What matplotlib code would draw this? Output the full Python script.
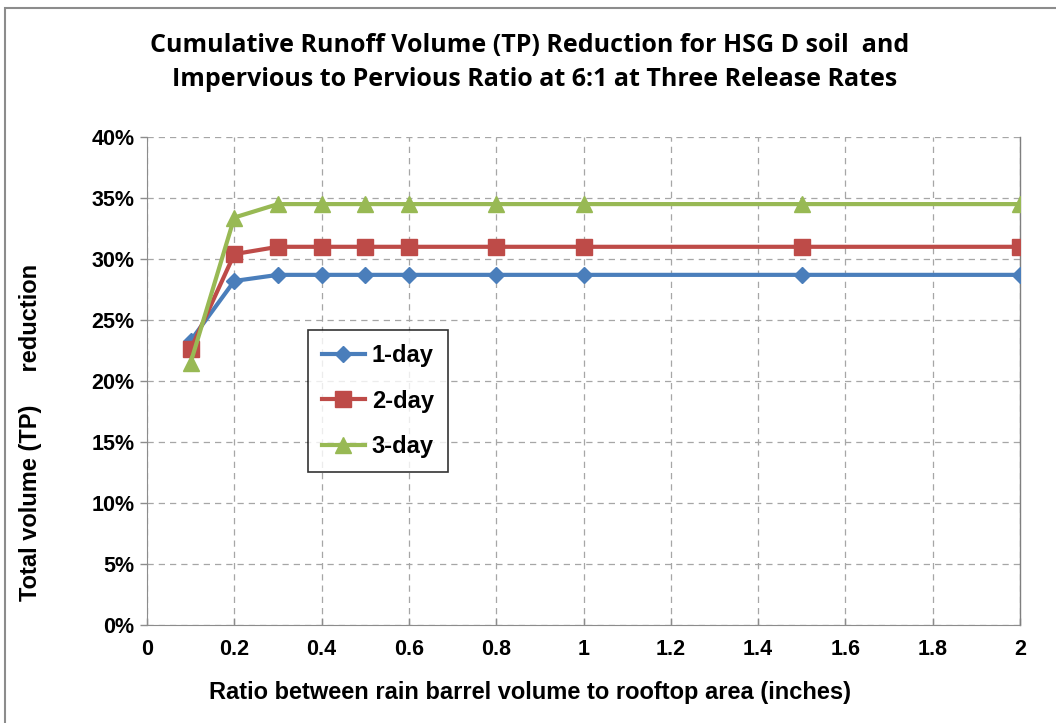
import matplotlib
matplotlib.use("Agg")
import matplotlib.pyplot as plt
from matplotlib.patches import Rectangle
from matplotlib.ticker import FuncFormatter, MultipleLocator

# Rain barrel size relative to rooftop area (inches)
ratio = [0.1, 0.2, 0.3, 0.4, 0.5, 0.6, 0.8, 1.0, 1.5, 2.0]

# Total volume (TP) reduction, percent, by release rate
one_day = [23.3, 28.2, 28.7, 28.7, 28.7, 28.7, 28.7, 28.7, 28.7, 28.7]
two_day = [22.6, 30.4, 31.0, 31.0, 31.0, 31.0, 31.0, 31.0, 31.0, 31.0]
three_day = [21.5, 33.4, 34.5, 34.5, 34.5, 34.5, 34.5, 34.5, 34.5, 34.5]

series_labels = ["1-day", "2-day", "3-day"]

W, H = 1056, 723
fig = plt.figure(figsize=(W / 100, H / 100), dpi=100)
fig.patch.set_facecolor("white")

# chart frame
fig.add_artist(Rectangle((5 / W, -0.05), 1.2, 1 - 8 / H + 0.05,
                         transform=fig.transFigure, fill=False,
                         edgecolor="#8c8c8c", linewidth=1.5))

x0, x1, y0, y1 = 147, 1020, 625, 137
ax = fig.add_axes([x0 / W, 1 - y0 / H, (x1 - x0) / W, (y0 - y1) / H])

title_font = ["Open Sans", "DejaVu Sans"]
tick_font = ["Liberation Sans Narrow", "Liberation Sans", "DejaVu Sans"]

styles = [
    (one_day, "#4A7EBB", "D", 8.5),
    (two_day, "#BE4B48", "s", 11),
    (three_day, "#98B954", "^", 12),
]
for (vals, color, marker, ms), lab in zip(styles, series_labels):
    ax.plot(ratio, vals, color=color, linewidth=3, marker=marker,
            markersize=ms, markerfacecolor=color, markeredgecolor=color,
            label=lab, zorder=3)

ax.set_xlim(0, 2)
ax.set_ylim(0, 40)
ax.xaxis.set_major_locator(MultipleLocator(0.2))
ax.yaxis.set_major_locator(MultipleLocator(5))
ax.xaxis.set_major_formatter(FuncFormatter(lambda v, p: f"{v:.1f}".rstrip("0").rstrip(".")))
ax.yaxis.set_major_formatter(FuncFormatter(lambda v, p: f"{v:.0f}%"))

ax.grid(True, linestyle=(0, (5, 4)), color="#a6a6a6", linewidth=0.9, zorder=0)
ax.spines["top"].set_visible(False)
ax.spines["right"].set_color("#7f7f7f")
ax.spines["right"].set_linewidth(1.0)
ax.spines["left"].set_color("#8c8c8c")
ax.spines["bottom"].set_color("#8c8c8c")
ax.tick_params(axis="both", length=5, color="#8c8c8c", width=1)
ax.tick_params(axis="x", direction="in", pad=10)
ax.tick_params(axis="y", direction="out", pad=4)
for t in ax.get_xticklabels() + ax.get_yticklabels():
    t.set_fontfamily(tick_font)
    t.set_fontweight("bold")
    t.set_fontsize(15.5)

ax.set_xlabel("Ratio between rain barrel volume to rooftop area (inches)",
              fontsize=17, fontweight="bold", family=tick_font)
ax.set_ylabel("Total volume (TP)     reduction", fontsize=17,
              fontweight="bold", family=tick_font)
ax.xaxis.set_label_coords((530 - x0) / (x1 - x0), (y0 - 692) / (y0 - y1))
ax.yaxis.set_label_coords((30 - x0) / (x1 - x0), (y0 - 432) / (y0 - y1))
ax.xaxis.label.set_va("center")
ax.yaxis.label.set_va("center")

fig.text(530 / W, 1 - 45 / H,
         "Cumulative Runoff Volume (TP) Reduction for HSG D soil  and",
         ha="center", va="center", fontsize=18, fontweight="bold",
         family=title_font)
fig.text(535 / W, 1 - 80 / H,
         "Impervious to Pervious Ratio at 6:1 at Three Release Rates",
         ha="center", va="center", fontsize=18, fontweight="bold",
         family=title_font)

leg = ax.legend(loc="upper left",
                bbox_to_anchor=((308 - x0) / (x1 - x0), (y0 - 330) / (y0 - y1)),
                borderaxespad=0, frameon=True, fancybox=False,
                edgecolor="black",
                prop={"family": tick_font, "weight": "bold", "size": 17},
                handlelength=1.8, labelspacing=0.95, borderpad=0.6,
                handletextpad=0.3)
leg.get_frame().set_linewidth(1.2)

fig.savefig("out.png", dpi=100, facecolor="white")
